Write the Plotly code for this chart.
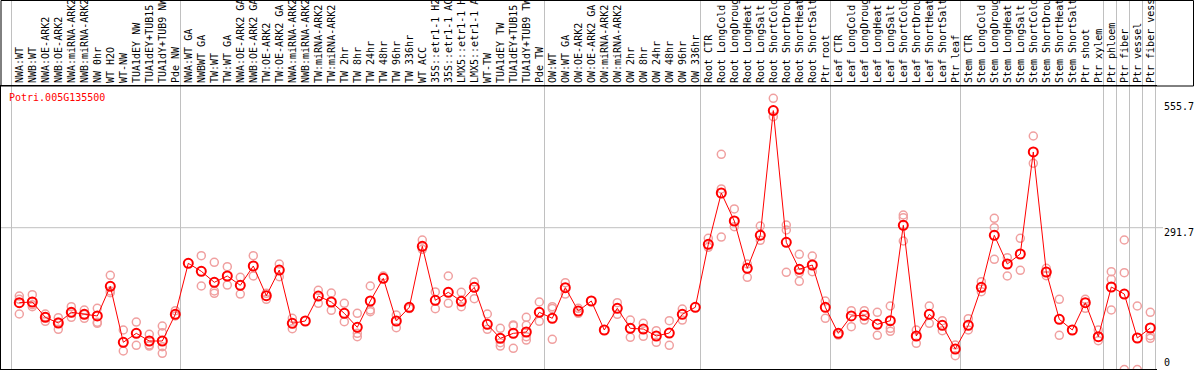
import plotly.graph_objects as go

gene = "Potri.005G135500"

categories = [
    "NWA:WT", "NWB:WT", "NWA:OE-ARK2", "NWB:OE-ARK2", "NWA:miRNA-ARK2", "NWB:miRNA-ARK2",
    "NW 0hr", "WT H2O", "WT-NW", "TUA1dEY NW", "TUA1dEY+TUB15", "TUA1dY+TUB9 NW", "Pde NW",
    "NWA:WT GA", "NWBWT GA", "TW:WT", "TW:WT GA", "NWA:OE-ARK2 GA", "NWB:OE-ARK2 GA",
    "TW:OE-ARK2", "TW:OE-ARK2 GA", "NWA:miRNA-ARK2", "NWB:miRNA-ARK2", "TW:miRNA-ARK2",
    "TW:miRNA-ARK2", "TW 2hr", "TW 8hr", "TW 24hr", "TW 48hr", "TW 96hr", "TW 336hr",
    "WT ACC", "35S::etr1-1 H2", "35S::etr1-1 AC", "LMX5::etr1-1 H", "LMX5::etr1-1 A",
    "WT-TW", "TUA1dEY TW", "TUA1dEY+TUB15", "TUA1dY+TUB9 TW", "Pde TW",
    "OW:WT", "OW:WT GA", "OW:OE-ARK2", "OW:OE-ARK2 GA", "OW:miRNA-ARK2", "OW:miRNA-ARK2",
    "OW 2hr", "OW 8hr", "OW 24hr", "OW 48hr", "OW 96hr", "OW 336hr",
    "Root CTR", "Root LongCold", "Root LongDroug", "Root LongHeat", "Root LongSalt",
    "Root ShortCold", "Root ShortDrou", "Root ShortHeat", "Root ShortSalt", "Ptr root",
    "Leaf CTR", "Leaf LongCold", "Leaf LongDroug", "Leaf LongHeat", "Leaf LongSalt",
    "Leaf ShortCold", "Leaf ShortDrou", "Leaf ShortHeat", "Leaf ShortSalt", "Ptr leaf",
    "Stem CTR", "Stem LongCold", "Stem LongDroug", "Stem LongHeat", "Stem LongSalt",
    "Stem ShortCold", "Stem ShortDrou", "Stem ShortHeat", "Stem ShortSalt", "Ptr shoot",
    "Ptr xylem", "Ptr phloem", "Ptr fiber", "Ptr vessel", "Ptr fiber vess",
]

means = [
    122.6, 124.2, 89.7, 76.9, 101.0, 96.5, 92.7, 159.6, 33.4, 53.6, 36.3, 36.3, 96.5,
    211.4, 193.4, 168.6, 182.8, 161.8, 205.4, 138.4, 196.3, 76.2, 81.4, 137.7, 124.2,
    98.7, 67.2, 126.5, 177.6, 81.4, 112.3, 249.8, 128.0, 146.1, 125.8, 157.3, 73.9,
    42.4, 53.6, 56.6, 101.0,
    87.5, 156.5, 103.9, 126.5, 61.1, 110.0, 64.9, 63.3, 47.6, 54.3, 96.5, 112.3,
    254.3, 369.9, 306.8, 200.2, 274.6, 555.7, 258.8, 197.9, 207.6, 112.3,
    53.6, 92.7, 94.2, 73.9, 82.1, 297.1, 47.6, 96.5, 71.7, 18.3,
    71.7, 157.3, 274.6, 209.9, 232.4, 462.4, 191.8, 85.2, 61.1, 122.6,
    46.0, 158.0, 142.2, 43.1, 65.6,
]

replicates = [
    [137.7, 130.3, 97.2], [140.7, 118.0, 113.6], [97.2, 91.0, 80.7], [88.8, 79.0, 62.7],
    [113.6, 100.0, 89.7], [106.2, 96.0, 87.5], [110.0, 78.4, 76.2], [184.4, 149.0, 145.2],
    [61.1, 13.8], [79.1, 26.6], [51.4, 27.3, 25.0], [70.1, 55.0, 23.4, 8.6], [104.6, 92.7],
    [], [228.6, 160.3], [213.7, 149.0, 143.8], [203.8, 162.5], [179.9, 142.2],
    [228.6, 182.8], [143.8, 130.3], [209.9, 181.2], [87.5, 64.0], [],
    [150.6, 121.3], [144.5, 105.5], [121.3, 79.8], [98.7, 53.6, 46.0], [160.3, 106.2, 102.3],
    [182.8], [94.9, 66.3], [109.4], [264.0, 243.0], [146.8, 109.1], [182.8, 121.3],
    [146.1, 113.6], [169.3, 131.7], [97.2, 62.7], [64.9, 32.5, 25.0], [72.5, 70.5, 19.8],
    [89.7, 71.7, 46.0, 38.5], [124.2, 80.7],
    [113.6, 109.4, 40.1], [167.7, 142.2], [110.0, 98.7], [], [], [122.6, 96.5],
    [83.6, 44.6], [76.2, 46.9], [59.5, 33.4], [82.1, 26.6], [108.4, 83.6], [],
    [267.8, 247.5], [457.2, 379.0, 270.7], [333.9, 294.0], [209.9, 179.9], [295.5, 263.3],
    [583.4, 541.9], [297.8, 286.5, 191.2], [231.7, 190.4, 170.9], [227.9, 192.5], [126.5, 87.5],
    [49.8], [104.6, 68.5], [104.6, 83.6], [101.0, 49.1], [115.2, 64.9, 58.2],
    [320.3, 314.2, 261.7], [61.1, 31.1], [115.2, 76.2], [82.1, 59.5], [27.3, 3.2],
    [86.6, 61.1], [170.0, 147.4], [312.9, 291.7, 220.5], [224.1, 182.8], [267.8, 195.7],
    [498.4, 436.9], [200.2, 183.5], [130.3, 49.1], [], [130.3, 110.0],
    [61.1, 37.0], [192.5, 175.4, 106.2], [264.0, 190.3, -28.0], [115.2, -28.0],
    [101.0, 48.2, 42.4],
]

# first category index of each separated group (vertical rules)
group_starts = [0, 13, 41, 53, 63, 73, 84, 85, 86, 87, 88]

n = len(categories)
xs = list(range(n))
rep_x = [i for i, r in enumerate(replicates) for _ in r]
rep_y = [v for r in replicates for v in r]

FONT = "DejaVu Sans Mono"
GRID = "#c0c0c0"
W, H = 1194, 370
ML, MR, MT, MB = 1, 37, 86, 1
pw = W - ML - MR
ph = H - MT - MB

fig = go.Figure()
fig.add_trace(go.Scatter(
    x=rep_x, y=rep_y, mode="markers",
    marker=dict(symbol="circle-open", size=8, color="#f0a0a0", line=dict(width=1.5, color="#f0a0a0")),
    hoverinfo="skip", showlegend=False,
))
fig.add_trace(go.Scatter(
    x=xs, y=means, mode="lines+markers",
    line=dict(color="#ff0000", width=1),
    marker=dict(symbol="circle-open", size=9, color="#ff0000", line=dict(width=2, color="#ff0000")),
    showlegend=False,
))

ymax_rep = max(rep_y)
ymid = ymax_rep / 2
shapes = []
for g in group_starts:
    shapes.append(dict(type="line", xref="x", yref="paper", x0=g - 0.6, x1=g - 0.6,
                       y0=0, y1=1 + MT / ph, line=dict(color=GRID, width=1), layer="below"))
shapes.append(dict(type="line", xref="paper", yref="y", x0=0, x1=(1163 - ML) / pw,
                   y0=ymid, y1=ymid, line=dict(color=GRID, width=1), layer="below"))
shapes.append(dict(type="rect", xref="paper", yref="paper", x0=0, x1=(1193.5 - ML) / pw,
                   y0=1, y1=1 + (MT - 0.5) / ph, line=dict(color="black", width=1)))

lab_x = (1162 - ML) / pw
annotations = [
    dict(text=gene, xref="paper", yref="paper", x=(7 - ML) / pw, y=(H - MB - 97) / ph,
         xanchor="left", yanchor="middle", showarrow=False,
         font=dict(family=FONT, size=10, color="#ff0000")),
    dict(text=f"{max(means):.1f}", xref="paper", yref="y", x=lab_x, y=ymax_rep, yshift=-8,
         xanchor="left", yanchor="middle", showarrow=False, font=dict(family=FONT, size=10, color="black")),
    dict(text=f"{ymid:.1f}", xref="paper", yref="y", x=lab_x, y=ymid, yshift=-5,
         xanchor="left", yanchor="middle", showarrow=False, font=dict(family=FONT, size=10, color="black")),
    dict(text="0", xref="paper", yref="y", x=lab_x, y=0, yshift=-5,
         xanchor="left", yanchor="middle", showarrow=False, font=dict(family=FONT, size=10, color="black")),
]

fig.update_layout(
    width=W, height=H, margin=dict(l=ML, r=MR, t=MT, b=MB, autoexpand=False),
    paper_bgcolor="white", plot_bgcolor="white",
    shapes=shapes, annotations=annotations,
    xaxis=dict(side="top", range=[(1 - 19.3) / 13, (1157 - 19.3) / 13],
               tickmode="array", tickvals=xs, ticktext=categories, tickangle=-90,
               tickfont=dict(family=FONT, size=10, color="black"), ticks="",
               showgrid=False, zeroline=False, showline=True, mirror=True,
               linecolor="black", linewidth=1, automargin=False),
    yaxis=dict(range=[-26.8, 611.1], showgrid=False, zeroline=False, showticklabels=False,
               showline=True, linecolor="black", linewidth=1, ticks="", automargin=False),
)

fig.write_html("out.html", config={"displayModeBar": False},
               post_script="document.body.style.margin='0';document.body.style.padding='0';")
